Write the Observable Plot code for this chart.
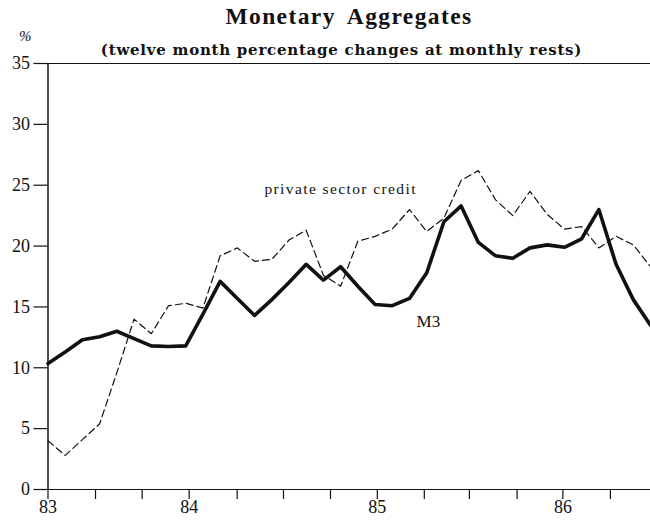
<!DOCTYPE html>
<html>
<head>
<meta charset="utf-8">
<script src="https://cdn.jsdelivr.net/npm/d3@7"></script>
<script src="https://cdn.jsdelivr.net/npm/@observablehq/plot@0.6"></script>
<style>
  html, body { margin: 0; padding: 0; background: #fff; }
  #wrap { position: relative; width: 650px; height: 521px; overflow: hidden; }
  #wrap svg { position: absolute; left: 0; top: 0; }
  .t { position: absolute; white-space: nowrap; color: #111; }
  #title { left: 0; width: 698px; text-align: center; top: 3px; font: bold 23.5px "Liberation Serif", serif; letter-spacing: 1.4px; word-spacing: 5px; }
  #subtitle { left: 0; width: 683px; text-align: center; top: 41px; font: bold 15px "DejaVu Serif", serif; letter-spacing: 0.75px; }
  #pct { left: 19px; top: 28px; font: italic 15px "Liberation Serif", serif; }
</style>
</head>
<body>
<div id="wrap">
  <div class="t" id="title">Monetary  Aggregates</div>
  <div class="t" id="subtitle">(twelve month percentage changes at monthly rests)</div>
  <div class="t" id="pct">%</div>
</div>
<script>
// month index (monthly observations, first at axis start)
const months = d3.range(0, 36);
// M3, twelve-month % change
const m3 = [10.35, 11.3, 12.3, 12.55, 13.0, 12.4, 11.8, 11.75, 11.8, 14.4,
            17.1, 15.7, 14.3, 15.6, 17.0, 18.5, 17.2, 18.3, 16.7, 15.2,
            15.1, 15.7, 17.8, 22.0, 23.3, 20.3, 19.2, 19.0, 19.85, 20.1,
            19.9, 20.6, 23.0, 18.5, 15.6, 13.5];
// private sector credit, twelve-month % change
const credit = [4.0, 2.8, 4.1, 5.4, 9.6, 14.0, 12.8, 15.1, 15.3, 14.9,
                19.2, 19.85, 18.75, 18.9, 20.5, 21.3, 17.6, 16.7, 20.4, 20.8,
                21.4, 23.0, 21.2, 22.3, 25.4, 26.2, 23.8, 22.5, 24.5, 22.6,
                21.4, 21.6, 19.85, 20.8, 20.1, 18.3];
// x-axis tick positions (in month-index units) and their labels
const xTickPos = [0, 2.76, 5.47, 8.2, 10.99, 13.68, 16.41, 19.13, 21.86, 24.48, 27.25, 29.91, 32.67];
const xTickLabels = ["83", "", "", "84", "", "", "", "85", "", "", "", "86", ""];
const yTicks = [0, 5, 10, 15, 20, 25, 30, 35];
// series labels
const labelText = ["private sector credit", "M3"];
const labelX = [17.0, 22.1];
const labelY = [24.65, 13.8];

const data = months.map((m, i) => ({month: m, m3: m3[i], credit: credit[i]}));
const labels = labelText.map((t, i) => ({text: t, x: labelX[i], y: labelY[i]}));
const tickLabel = new Map(xTickPos.map((p, i) => [p, xTickLabels[i]]));

const chart = Plot.plot({
  width: 650,
  height: 521,
  marginLeft: 47.5,
  marginRight: 0,
  marginTop: 63,
  marginBottom: 32,
  style: {fontFamily: "'Liberation Serif', serif", fontSize: "18px", color: "#111", background: "transparent"},
  x: {domain: [0, 35]},
  y: {domain: [0, 35]},
  marks: [
    Plot.axisY({ticks: yTicks, tickSize: 14, tickPadding: 4, label: null, fontSize: 18, stroke: "#111", strokeWidth: 1.2}),
    Plot.axisX({ticks: xTickPos, tickFormat: d => tickLabel.get(d), tickSize: 10, tickPadding: 1, label: null, fontSize: 18, stroke: "#111", strokeWidth: 1.2}),
    Plot.ruleY([0, 35], {stroke: "#111", strokeWidth: 1.2}),
    Plot.ruleX([0], {y1: 0, y2: 35, stroke: "#111", strokeWidth: 1.5}),
    Plot.line(data, {x: "month", y: "credit", stroke: "#111", strokeWidth: 1.2, strokeDasharray: "7,4"}),
    Plot.line(data, {x: "month", y: "m3", stroke: "#111", strokeWidth: 3.6, strokeLinejoin: "round"}),
    Plot.text(labels.slice(0, 1), {x: "x", y: "y", text: "text", fontSize: 15.5, fill: "#111"}),
    Plot.text(labels.slice(1), {x: "x", y: "y", text: "text", fontSize: 17, fill: "#111"})
  ]
});
chart.querySelectorAll("text").forEach(t => {
  if (t.textContent === "private sector credit") t.setAttribute("letter-spacing", "1.4");
});
document.getElementById("wrap").prepend(chart);
</script>
</body>
</html>
